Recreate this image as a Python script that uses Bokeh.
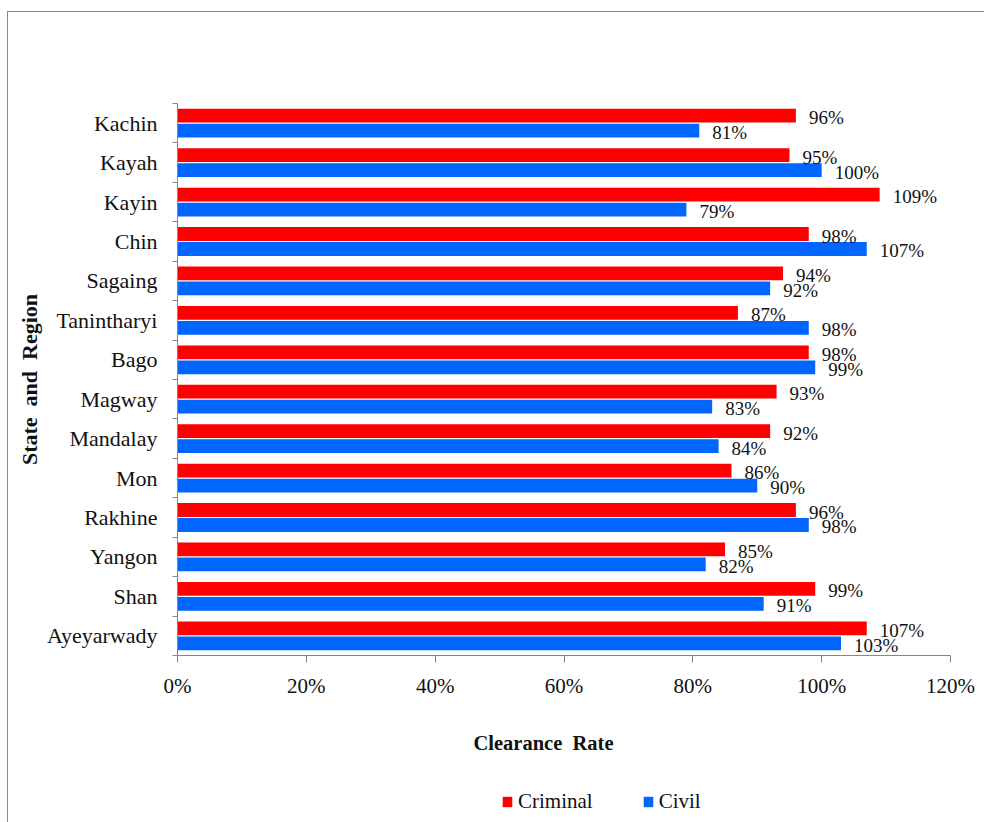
from bokeh.plotting import figure
from bokeh.layouts import column
from bokeh.models import (Range1d, FixedTicker, PrintfTickFormatter, Legend,
                          LegendItem, ColumnDataSource)
from bokeh.embed import file_html
from bokeh.resources import INLINE

# Clearance rate (%) by State and Region, listed top to bottom
regions = ["Kachin", "Kayah", "Kayin", "Chin", "Sagaing", "Tanintharyi", "Bago",
           "Magway", "Mandalay", "Mon", "Rakhine", "Yangon", "Shan", "Ayeyarwady"]
criminal = [96, 95, 109, 98, 94, 87, 98, 93, 92, 86, 96, 85, 99, 107]
civil = [81, 100, 79, 107, 92, 98, 99, 83, 84, 90, 98, 82, 91, 103]
x_ticks = [0, 20, 40, 60, 80, 100, 120]
series = ["Criminal", "Civil"]

SERIF = "Liberation Serif"
RED = "#FF0000"
BLUE = "#0066FF"
AXIS = "#868686"
FRAME = "1px solid #8a8a8a"
NB = "\u00a0 "  # wide word gap in the axis titles

n = len(regions)
# first region at the top
pos = [n - 1 - i for i in range(n)]

W = 977
p = figure(width=W, height=758, output_backend="svg", toolbar_location=None,
           x_range=Range1d(0, 120), y_range=Range1d(-0.5, n - 0.5),
           min_border_left=169, min_border_right=35, min_border_top=91,
           min_border_bottom=115, margin=(11, 0, 0, 7))
p.styles = {"border-left": FRAME, "border-top": FRAME}
p.outline_line_color = None
p.xgrid.visible = False
p.ygrid.visible = False

off = 0.19
bh = 0.35
src_c = ColumnDataSource(dict(y=[v + off for v in pos], x=criminal,
                              t=[f"{v}%" for v in criminal]))
src_v = ColumnDataSource(dict(y=[v - off for v in pos], x=civil,
                              t=[f"{v}%" for v in civil]))

p.hbar(y="y", right="x", left=0, height=bh, source=src_c,
       fill_color=RED, line_color=None)
p.hbar(y="y", right="x", left=0, height=bh, source=src_v,
       fill_color=BLUE, line_color=None)

for src in (src_c, src_v):
    p.text(x="x", y="y", text="t", source=src, x_offset=13, y_offset=2,
           text_font={"value": SERIF}, text_font_size="19px",
           text_baseline="middle", text_align="left", text_color="#111111")

# x axis
xa = p.xaxis[0]
xa.ticker = FixedTicker(ticks=x_ticks)
xa.formatter = PrintfTickFormatter(format="%d%%")
xa.axis_line_color = AXIS
xa.major_tick_line_color = AXIS
xa.major_tick_in = 0
xa.major_tick_out = 7
xa.minor_tick_line_color = None
xa.major_label_text_font = SERIF
xa.major_label_text_font_size = "21px"
xa.major_label_text_color = "#111111"
xa.major_label_standoff = 11
# trailing no-break spaces nudge the centred title a little to the left
xa.axis_label = "Clearance" + NB + "Rate" + "\u00a0" * 8
xa.axis_label_text_font = SERIF
xa.axis_label_text_font_style = "bold"
xa.axis_label_text_font_size = "20.5px"
xa.axis_label_text_color = "#111111"
xa.axis_label_standoff = 31

# y axis: names at category centres, ticks at boundaries
ya = p.yaxis[0]
centers = list(range(n))
bounds = [i - 0.5 for i in range(n + 1)]
ya.ticker = FixedTicker(ticks=centers, minor_ticks=bounds)
ya.major_label_overrides = {pos[i]: regions[i] for i in range(n)}
ya.axis_line_color = AXIS
ya.major_tick_line_color = None
ya.minor_tick_line_color = AXIS
ya.minor_tick_in = 0
ya.minor_tick_out = 5
ya.major_label_text_font = SERIF
ya.major_label_text_font_size = "22px"
ya.major_label_text_color = "#111111"
ya.major_label_standoff = 14
ya.axis_label = "State" + NB + "and" + NB + "Region"
ya.axis_label_text_font = SERIF
ya.axis_label_text_font_style = "bold"
ya.axis_label_text_font_size = "22px"
ya.axis_label_text_color = "#111111"
ya.axis_label_standoff = 2

# legend strip under the chart
lg = figure(width=W, height=60, output_backend="svg", toolbar_location=None,
            x_range=Range1d(0, 1), y_range=Range1d(0, 1),
            min_border=0, margin=(0, 0, 0, 7))
lg.styles = {"border-left": FRAME}
lg.outline_line_color = None
lg.axis.visible = False
lg.grid.visible = False
# key swatches sit outside the strip's visible range; only the legend shows them
k_c = lg.quad(left=[5], right=[6], bottom=[5], top=[6],
              fill_color=RED, line_color=None)
k_v = lg.quad(left=[5], right=[6], bottom=[5], top=[6],
              fill_color=BLUE, line_color=None)

legend = Legend(items=[LegendItem(label=series[0], renderers=[k_c]),
                       LegendItem(label=series[1], renderers=[k_v])],
                orientation="horizontal", location=(324, 15),
                label_text_font=SERIF, label_text_font_size="21px",
                label_text_color="#111111", glyph_width=12, glyph_height=13,
                label_standoff=5, spacing=49, padding=0, margin=0,
                border_line_color=None, background_fill_alpha=0)
lg.add_layout(legend, "center")

layout = column(p, lg, spacing=0)
open("out.html", "w").write(file_html(layout, INLINE))
